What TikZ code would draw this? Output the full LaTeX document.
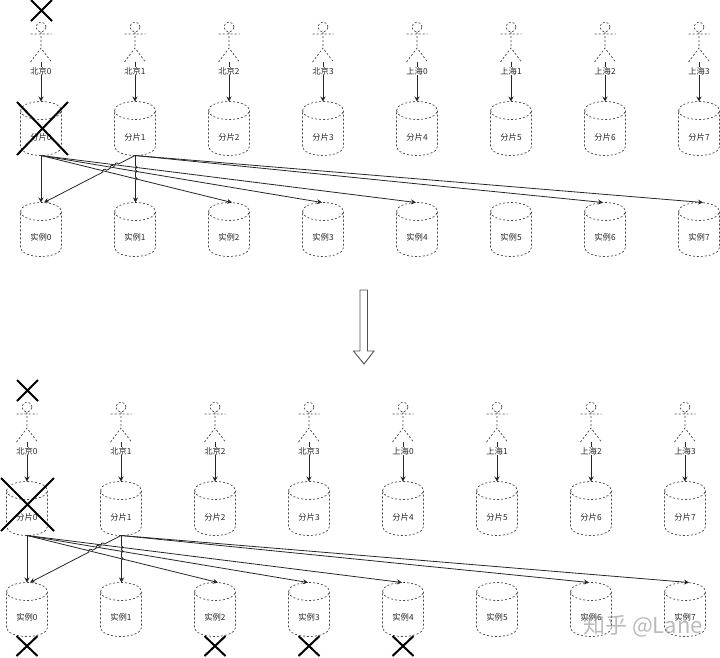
\documentclass[tikz,border=0pt]{standalone}
\usepackage{fontspec}
\setmainfont{Noto Sans CJK SC}
\usetikzlibrary{arrows.meta,calc}
\definecolor{ink}{HTML}{262626}
\tikzset{
  x=1pt,y=1pt,
  dashy/.style={draw=black!72,line width=0.7pt,dash pattern=on 2pt off 2pt},
  cyl/.style={rectangle,minimum width=41pt,minimum height=54pt,inner sep=0pt,outer sep=0pt},
  lab/.style={font=\fontsize{8.3}{9}\selectfont,text=ink,inner sep=0.5pt},
  labw/.style={lab,fill=white},
  conn/.style={draw=ink,line width=0.8pt,-{Stealth[length=5pt,width=5pt]}},
  cross/.style={draw=black,line width=2pt},
}
\newcommand{\cyldraw}[1]{%
  \draw[dashy] ($(#1.north west)+(0,-9)$) arc[start angle=180,end angle=0,x radius=20.5,y radius=9]
     -- ($(#1.south east)+(0,9)$) arc[start angle=0,end angle=-180,x radius=20.5,y radius=9] -- cycle;
  \draw[dashy] ($(#1.north west)+(0,-9)$) arc[start angle=180,end angle=360,x radius=20.5,y radius=9];
}
\newcommand{\panel}[1]{%
  \foreach \i/\nm [evaluate=\i as \xx using 41+94*\i] in {0/北京0,1/北京1,2/北京2,3/北京3,4/上海0,5/上海1,6/上海2,7/上海3}{
    \draw[dashy] (\xx,-27) circle[radius=5];
    \draw[dashy] (\xx,-32) -- (\xx,-48) (\xx-10.5,-34) -- (\xx+10.5,-34) (\xx-10.5,-62) -- (\xx,-48) -- (\xx+10.5,-62);
    \coordinate (#1a\i) at (\xx,-62);
    \node[cyl] (#1s\i) at (\xx,-128.5) {};
    \node[cyl] (#1r\i) at (\xx,-229.5) {};
    \cyldraw{#1s\i}
    \cyldraw{#1r\i}
    \draw[conn] (#1a\i) -- (#1s\i.north);
    \node[labw] (#1l\i) at (\xx,-71) {\nm};
    \node[lab] (#1m\i) at (\xx,-137) {分片\i};
    \node[lab] (#1n\i) at (\xx,-237) {实例\i};
  }
  \coordinate (#1t0) at ($(#1r0.north)+(3,0)$);
  \coordinate (#1t2) at ($(#1r2.north)+(3,0)$);
  \coordinate (#1t3) at ($(#1r3.north)+(-1,0)$);
  \coordinate (#1t4) at ($(#1r4.north)+(-1,0)$);
  \coordinate (#1t6) at ($(#1r6.north)+(-2,0)$);
  \coordinate (#1t7) at ($(#1r7.north)+(4,0)$);
  \coordinate (#1u0) at ($(#1s1.south)+(0.5,0)$);
  \coordinate (#1u1) at ($(#1r1.north)+(0.5,0)$);
  \draw[conn] (#1s0.south) -- (#1r0.north);
  \draw[conn] (#1s0.south) -- (#1t2);
  \draw[conn] (#1s0.south) -- (#1t3);
  \draw[conn] (#1s0.south) -- (#1t4);
  \draw[conn] (#1s1.south) -- (#1t6);
  \draw[conn] (#1s1.south) -- (#1t7);
  \draw[conn] (#1u0) -- ($(#1u0)!0.219!(#1u1)$) arc[start angle=90,end angle=-90,radius=1.5]
     -- ($(#1u0)!0.302!(#1u1)$) arc[start angle=90,end angle=-90,radius=1.5]
     -- ($(#1u0)!0.457!(#1u1)$) arc[start angle=90,end angle=-90,radius=1.5]
     -- (#1u1);
  \draw[conn] (#1s1.south) -- ($(#1s1.south)!0.181!(#1t0)$) arc[start angle=27.3,end angle=207.3,radius=2]
     -- ($(#1s1.south)!0.233!(#1t0)$) arc[start angle=27.3,end angle=207.3,radius=2]
     -- ($(#1s1.south)!0.314!(#1t0)$) arc[start angle=27.3,end angle=207.3,radius=2]
     -- (#1t0);
}
\begin{document}
\begin{tikzpicture}
\useasboundingbox (0,0) rectangle (720,-657);
\panel{p}
\begin{scope}[shift={(-14,-380)}]
\panel{q}
\end{scope}
% crosses
\draw[cross] (31,0) -- (52,-21) (52,0) -- (31,-21);
\draw[cross] (17,-102) -- (68,-155) (68,-102) -- (17,-155);
\draw[cross] (17,-380) -- (38,-401) (38,-380) -- (17,-401);
\draw[cross] (1,-478) -- (54,-531) (54,-478) -- (1,-531);
\foreach \cx in {27,215,309,403}{
  \draw[cross] (\cx-10.5,-636) -- (\cx+10.5,-656) (\cx+10.5,-636) -- (\cx-10.5,-656);
}
% hollow arrow
\draw[draw=ink!80,line width=0.9pt,fill=white] (360,-290) -- (367.5,-290) -- (367.5,-351) -- (374,-351) -- (364,-364) -- (353.5,-351) -- (360,-351) -- cycle;
% watermark
\node[font=\fontsize{22}{24}\selectfont,text=black!45,opacity=0.6,inner sep=0pt,anchor=west] (wm) at (583,-626) {知乎 @Lane};
\end{tikzpicture}
\end{document}
